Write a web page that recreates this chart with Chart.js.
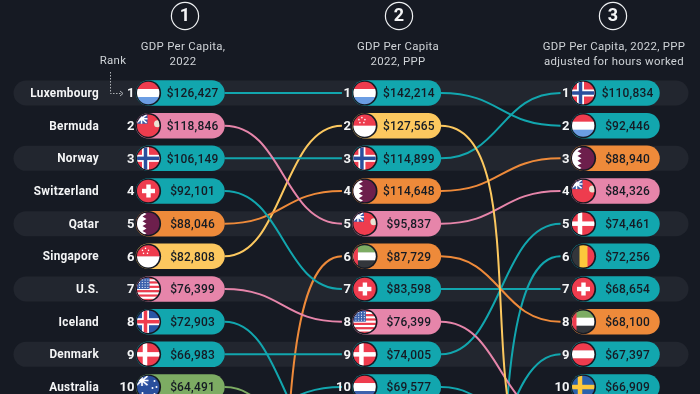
<!DOCTYPE html>
<html>
<head>
<meta charset="utf-8">
<script src="https://cdn.jsdelivr.net/npm/chart.js@4/dist/chart.umd.js"></script>
<style>
html, body { margin: 0; padding: 0; background: #161a23; }
#wrap { position: relative; width: 700px; height: 394px; overflow: hidden; }
canvas { display: block; }
</style>
</head>
<body>
<div id="wrap"><canvas id="chart" width="700" height="394"></canvas></div>
<script>
// DATA (rows below 10 are cut off by the picture, their ranks are estimates)
const names_2022 = ["Luxembourg", "Bermuda", "Norway", "Switzerland", "Qatar", "Singapore", "U.S.", "Iceland", "Denmark", "Australia"];
const values_2022 = ["$126,427", "$118,846", "$106,149", "$92,101", "$88,046", "$82,808", "$76,399", "$72,903", "$66,983", "$64,491"];
const names_ppp = ["Luxembourg", "Singapore", "Norway", "Qatar", "Bermuda", "UAE", "Switzerland", "U.S.", "Denmark", "Netherlands"];
const values_ppp = ["$142,214", "$127,565", "$114,899", "$114,648", "$95,837", "$87,729", "$83,598", "$76,399", "$74,005", "$69,577"];
const names_hours = ["Norway", "Luxembourg", "Qatar", "Bermuda", "Denmark", "Belgium", "Switzerland", "UAE", "Austria", "Sweden"];
const values_hours = ["$110,834", "$92,446", "$88,940", "$84,326", "$74,461", "$72,256", "$68,654", "$68,100", "$67,397", "$66,909"];
const column_titles = [["GDP Per Capita,", "2022"], ["GDP Per Capita", "2022, PPP"], ["GDP Per Capita, 2022, PPP", "adjusted for hours worked"]];
const offscreen_2022 = { UAE: 25, Netherlands: 11 };
const offscreen_ppp = { Iceland: 12, Australia: 13, Belgium: 24, Austria: 14 };
const offscreen_hours = { Singapore: 13, "U.S.": 11, Netherlands: 12 };

// APP VARIABLES
const region_colors = { Europe: "#12a6ae", America: "#e685aa", Gulf: "#ee8a3a", Asia: "#fcc85f", Oceania: "#7dac63" };
const regions = { Bermuda: "America", "U.S.": "America", Qatar: "Gulf", UAE: "Gulf", Singapore: "Asia", Australia: "Oceania" };
const BG = "#161a23", INK = "#151b24";
const COL_STEP = 217.5, ROW_STEP = 32.67;
const X_MIN = 1 - 148.5 / COL_STEP, Y_MIN = 1 - 93 / ROW_STEP;
const px = p => p / COL_STEP;
const colorOf = name => region_colors[regions[name] || "Europe"];

const columns = [names_2022, names_ppp, names_hours];
const column_x = [1, 1.995, 3];
const header_x = [185, 399, 613];
const title_x = [183, 398, 614];
const offscreen = [offscreen_2022, offscreen_ppp, offscreen_hours];
const rankIn = (c, name) => {
	const i = columns[c].indexOf(name);
	return i >= 0 ? i + 1 : offscreen[c][name];
};

function lineSet(points, color, width, order, extra) {
	return Object.assign({ data: points, borderColor: color, borderWidth: width, order, pointRadius: 0, borderCapStyle: "round", tension: 0 }, extra);
}

// BUILD DATASETS
const datasets = [];

// row bands
[1, 3, 5, 7, 9].forEach(r => {
	datasets.push(lineSet([{ x: X_MIN + px(26), y: r }, { x: X_MIN + px(676), y: r }], "#22262f", 25, 3));
});

// connectors between columns
[[0, 1], [1, 2]].forEach(([a, b]) => {
	const seen = new Set(columns[a].concat(columns[b]));
	seen.forEach(name => {
		const ra = rankIn(a, name), rb = rankIn(b, name);
		if (ra === undefined || rb === undefined) return;
		datasets.push(lineSet([{ x: column_x[a] + px(76), y: ra }, { x: column_x[b] - px(23), y: rb }], colorOf(name), 2, 2, {
			tension: 0.4, capBezierPoints: false, connector: true, borderCapStyle: "butt"
		}));
	});
});

// pills
columns.forEach((names, c) => {
	names.forEach((name, i) => {
		datasets.push(lineSet([{ x: column_x[c], y: i + 1 }, { x: column_x[c] + px(63.5), y: i + 1 }], colorOf(name), 25.5, 1));
	});
});

// FLAGS
function bands(ctx, colors, vertical) {
	colors.forEach((c, i) => {
		ctx.fillStyle = c;
		const s = 24 / colors.length;
		if (vertical) ctx.fillRect(-12 + i * s, -12, s + 0.5, 24);
		else ctx.fillRect(-12, -12 + i * s, 24, s + 0.5);
	});
}
function cross(ctx, color, w, cx) {
	ctx.fillStyle = color;
	ctx.fillRect(-12, -w / 2, 24, w);
	ctx.fillRect(cx - w / 2, -12, w, 24);
}
function jack(ctx, size) {
	ctx.save();
	ctx.translate(-12, -12);
	ctx.scale(size / 12, size / 12);
	ctx.fillStyle = "#3a5ca8";
	ctx.fillRect(0, 0, 12, 11);
	ctx.strokeStyle = "#fff";
	ctx.lineWidth = 1.6;
	ctx.beginPath();
	ctx.moveTo(0, 1); ctx.lineTo(11, 10);
	ctx.moveTo(11, 1); ctx.lineTo(0, 10);
	ctx.moveTo(5.5, 0); ctx.lineTo(5.5, 11);
	ctx.moveTo(0, 5.5); ctx.lineTo(12, 5.5);
	ctx.stroke();
	ctx.restore();
}
const flags = {
	Luxembourg(ctx) { bands(ctx, ["#ee3c4e", "#ffffff", "#6b9de3"]); },
	Netherlands(ctx) { bands(ctx, ["#ee3c4e", "#ffffff", "#3d62ad"]); },
	Austria(ctx) { bands(ctx, ["#ee3c4e", "#ffffff", "#ee3c4e"]); },
	Belgium(ctx) { bands(ctx, ["#33363b", "#fcc83c", "#ee3c4e"], true); },
	Bermuda(ctx) {
		bands(ctx, ["#ee3c4e"]);
		jack(ctx, 11);
		ctx.fillStyle = "#e9e4d4";
		ctx.beginPath();
		ctx.arc(9, -2, 3.5, 0, Math.PI * 2);
		ctx.fill();
	},
	Norway(ctx) {
		bands(ctx, ["#ee3c4e"]);
		cross(ctx, "#fff", 7, -3);
		cross(ctx, "#2a4f9c", 3.5, -3);
	},
	Switzerland(ctx) {
		bands(ctx, ["#ee3c4e"]);
		ctx.fillStyle = "#fff";
		ctx.fillRect(-6.5, -2.2, 13, 4.4);
		ctx.fillRect(-2.2, -6.5, 4.4, 13);
	},
	Qatar(ctx) {
		bands(ctx, ["#6d1f4c"]);
		ctx.fillStyle = "#fff";
		ctx.beginPath();
		ctx.moveTo(-12, -12);
		ctx.lineTo(-6, -12);
		for (let i = 0; i < 5; i++) {
			ctx.lineTo(-2, -12 + (i + 0.5) * 4.8);
			ctx.lineTo(-6, -12 + (i + 1) * 4.8);
		}
		ctx.lineTo(-12, 12);
		ctx.fill();
	},
	Singapore(ctx) {
		bands(ctx, ["#ee3c4e", "#ffffff"]);
		ctx.fillStyle = "#fff";
		[[-6, -6], [-3, -8], [0, -6], [-1, -3], [-5, -3]].forEach(p => {
			ctx.beginPath(); ctx.arc(p[0], p[1], 0.8, 0, 7); ctx.fill();
		});
	},
	"U.S."(ctx) {
		bands(ctx, ["#ee3c4e", "#fff", "#ee3c4e", "#fff", "#ee3c4e", "#fff", "#ee3c4e", "#fff", "#ee3c4e", "#fff", "#ee3c4e"]);
		ctx.fillStyle = "#3d62ad";
		ctx.fillRect(-12, -12, 13, 12);
		ctx.fillStyle = "#fff";
		for (let i = 0; i < 4; i++) for (let j = 0; j < 4; j++) ctx.fillRect(-9.5 + j * 2.8, -9.5 + i * 2.5, 1, 1);
	},
	Iceland(ctx) {
		bands(ctx, ["#2a56a5"]);
		cross(ctx, "#fff", 7, -3);
		cross(ctx, "#ee3c4e", 3.5, -3);
	},
	Denmark(ctx) {
		bands(ctx, ["#ee3c4e"]);
		cross(ctx, "#fff", 4.5, -3.5);
	},
	Sweden(ctx) {
		bands(ctx, ["#2a62ad"]);
		cross(ctx, "#fcc83c", 4.5, -3.5);
	},
	Australia(ctx) {
		bands(ctx, ["#2a4f9c"]);
		jack(ctx, 12);
		ctx.fillStyle = "#fff";
		[[-6, 6], [6, -6], [4, 1], [8, 0], [6, 7]].forEach(p => {
			ctx.beginPath(); ctx.arc(p[0], p[1], 1, 0, 7); ctx.fill();
		});
	},
	UAE(ctx) {
		bands(ctx, ["#7dac63", "#ffffff", "#33363b"]);
		ctx.fillStyle = "#ee3c4e";
		ctx.fillRect(-12, -12, 5, 24);
	}
};

function drawFlag(ctx, name, x, y) {
	ctx.save();
	ctx.translate(x, y);
	ctx.beginPath();
	ctx.arc(0, 0, 12.6, 0, Math.PI * 2);
	ctx.fillStyle = BG;
	ctx.fill();
	ctx.beginPath();
	ctx.arc(-0.3, 0, 11.2, 0, Math.PI * 2);
	ctx.clip();
	flags[name](ctx);
	ctx.restore();
}

function label(ctx, text, x, y, font, color, align, spacing, squeeze) {
	ctx.save();
	ctx.translate(x, y);
	ctx.scale(squeeze || 1, 1);
	ctx.font = font;
	ctx.fillStyle = color;
	ctx.textAlign = align;
	ctx.textBaseline = "middle";
	ctx.letterSpacing = spacing || "0px";
	ctx.fillText(text, 0, 0);
	ctx.restore();
}

// PLUGINS
const bendPlugin = {
	id: "bend",
	beforeDatasetDraw(chart, args) {
		const ds = chart.data.datasets[args.index];
		if (!ds.connector) return;
		const pts = chart.getDatasetMeta(args.index).dataset.points;
		const a = pts[0], b = pts[1];
		const jump = Math.abs(b.y - a.y) / ROW_STEP;
		// short hops are plain S curves, long drops turn hard and then run almost straight
		const k = 0.5 + 0.36 * Math.min(1, Math.max(0, (jump - 5) / 5));
		a.cp2x = a.x + (b.x - a.x) * k;
		a.cp2y = a.y;
		b.cp1x = b.x - (b.x - a.x) * k;
		b.cp1y = b.y;
	}
};

const labelPlugin = {
	id: "labels",
	afterDatasetsDraw(chart) {
		const { ctx, scales: { x, y } } = chart;
		const mid = 'Roboto, sans-serif';
		ctx.save();

		columns.forEach((names, c) => {
			const cx = x.getPixelForValue(column_x[c]);
			const values = [values_2022, values_ppp, values_hours][c];
			names.forEach((name, i) => {
				const py = y.getPixelForValue(i + 1);
				if (c === 0) label(ctx, name, 99, py + 1, `700 12.5px ${mid}`, "#f4f5f6", "right", "0.3px", 0.94);
				label(ctx, String(i + 1), cx - 14, py + 1, `700 13px ${mid}`, "#f4f5f6", "right");
				drawFlag(ctx, name, cx, py);
				label(ctx, values[i], cx + 44, py + 1, `500 13px ${mid}`, INK, "center", "0.2px", 0.92);
			});

			// header
			ctx.beginPath();
			ctx.arc(header_x[c], 16, 13.6, 0, Math.PI * 2);
			ctx.strokeStyle = "#eef0f2";
			ctx.lineWidth = 1.2;
			ctx.stroke();
			label(ctx, String(c + 1), header_x[c], 16.5, `700 18px ${mid}`, "#f4f5f6", "center");
			column_titles[c].forEach((t, j) => {
				label(ctx, t, title_x[c], 47 + j * 15, `400 11.4px ${mid}`, "#cfd3d7", "center", "0.3px");
			});
		});

		// rank note
		label(ctx, "Rank", 113, 61, `400 11.4px ${mid}`, "#cfd3d7", "center", "0.3px");
		ctx.strokeStyle = "#aeb2b7";
		ctx.lineWidth = 1;
		ctx.setLineDash([1.5, 1.5]);
		ctx.beginPath();
		ctx.moveTo(110.5, 72);
		ctx.lineTo(110.5, 93.5);
		ctx.lineTo(122, 93.5);
		ctx.stroke();
		ctx.setLineDash([]);
		ctx.beginPath();
		ctx.moveTo(120, 91);
		ctx.lineTo(123, 93.5);
		ctx.lineTo(120, 96);
		ctx.stroke();
		ctx.restore();
	}
};

// DRAW CHART
new Chart(document.getElementById("chart"), {
	type: "line",
	data: { datasets },
	plugins: [bendPlugin, labelPlugin],
	options: {
		responsive: false,
		animation: false,
		parsing: false,
		normalized: true,
		layout: { padding: 0 },
		plugins: { legend: { display: false }, tooltip: { enabled: false } },
		scales: {
			x: { type: "linear", display: false, min: X_MIN, max: X_MIN + 700 / COL_STEP },
			y: { type: "linear", display: false, reverse: true, min: Y_MIN, max: Y_MIN + 394 / ROW_STEP }
		}
	}
});
</script>
</body>
</html>
